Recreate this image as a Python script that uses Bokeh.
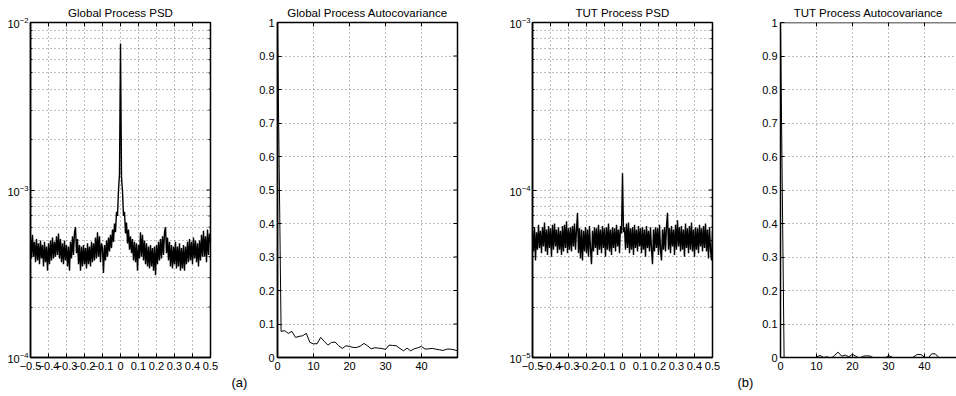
import numpy as np
from bokeh.plotting import figure
from bokeh.layouts import row
from bokeh.models import Range1d, FixedTicker, Span, Title
from bokeh.embed import file_html
from bokeh.resources import INLINE

FONT = "Liberation Sans"

# ---------------- data ----------------
psd_freq = np.linspace(-0.5, 0.5, 181)

global_psd = [
    5.2e-4, 3.9e-4, 5.4e-4, 4.0e-4, 4.9e-4, 3.7e-4, 5.1e-4, 3.8e-4, 4.8e-4, 3.6e-4,
    5.0e-4, 3.9e-4, 4.7e-4, 3.5e-4, 4.9e-4, 3.7e-4, 4.6e-4, 3.3e-4, 4.8e-4, 3.6e-4,
    5.0e-4, 3.8e-4, 5.2e-4, 3.9e-4, 4.9e-4, 4.0e-4, 5.3e-4, 4.1e-4, 5.5e-4, 3.9e-4,
    5.1e-4, 3.7e-4, 4.8e-4, 3.6e-4, 5.0e-4, 3.8e-4, 4.7e-4, 3.5e-4, 4.6e-4, 3.3e-4,
    4.9e-4, 3.9e-4, 5.3e-4, 4.1e-4, 5.6e-4, 6.0e-4, 4.2e-4, 5.1e-4, 3.6e-4, 4.7e-4,
    3.3e-4, 4.6e-4, 3.5e-4, 4.7e-4, 3.6e-4, 4.5e-4, 3.4e-4, 4.8e-4, 3.6e-4, 4.6e-4,
    3.5e-4, 4.9e-4, 3.7e-4, 4.8e-4, 3.8e-4, 5.2e-4, 3.9e-4, 5.6e-4, 4.0e-4, 5.3e-4,
    3.7e-4, 4.8e-4, 4.5e-4, 3.2e-4, 4.7e-4, 3.8e-4, 5.0e-4, 4.0e-4, 5.2e-4, 4.3e-4,
    5.4e-4, 4.5e-4, 5.8e-4, 4.9e-4, 6.3e-4, 5.6e-4, 7.4e-4, 7.0e-4, 10.0e-4, 12.5e-4,
    75.0e-4, 12.0e-4, 9.8e-4, 7.0e-4, 7.4e-4, 5.5e-4, 6.4e-4, 4.8e-4, 5.8e-4, 4.4e-4,
    5.3e-4, 4.2e-4, 5.1e-4, 3.8e-4, 4.9e-4, 3.7e-4, 4.8e-4, 3.3e-4, 4.7e-4, 3.9e-4,
    5.6e-4, 4.0e-4, 5.4e-4, 3.8e-4, 5.0e-4, 3.6e-4, 4.8e-4, 3.5e-4, 4.6e-4, 3.4e-4,
    4.7e-4, 3.5e-4, 4.5e-4, 3.3e-4, 4.6e-4, 3.1e-4, 4.7e-4, 3.6e-4, 4.9e-4, 3.8e-4,
    5.1e-4, 3.9e-4, 5.3e-4, 4.1e-4, 5.6e-4, 6.0e-4, 4.2e-4, 5.2e-4, 3.8e-4, 4.9e-4,
    3.5e-4, 4.7e-4, 3.4e-4, 4.6e-4, 3.6e-4, 4.9e-4, 3.4e-4, 4.6e-4, 3.5e-4, 4.8e-4,
    3.3e-4, 4.5e-4, 3.4e-4, 4.7e-4, 3.3e-4, 4.6e-4, 3.6e-4, 4.9e-4, 3.7e-4, 5.1e-4,
    3.8e-4, 4.9e-4, 3.6e-4, 5.2e-4, 3.9e-4, 5.0e-4, 3.7e-4, 4.8e-4, 3.5e-4, 5.0e-4,
    3.8e-4, 5.4e-4, 4.0e-4, 5.7e-4, 4.0e-4, 5.3e-4, 3.7e-4, 5.8e-4, 4.1e-4, 5.5e-4,
    4.9e-4,
]

tut_psd = [
    5.8e-5, 4.3e-5, 6.0e-5, 3.8e-5, 5.6e-5, 4.4e-5, 6.2e-5, 4.5e-5, 5.7e-5, 4.2e-5,
    6.0e-5, 4.6e-5, 6.4e-5, 4.3e-5, 5.8e-5, 4.1e-5, 6.1e-5, 4.5e-5, 5.9e-5, 4.0e-5,
    6.2e-5, 4.4e-5, 6.3e-5, 4.6e-5, 5.8e-5, 4.2e-5, 6.0e-5, 4.4e-5, 5.7e-5, 4.1e-5,
    6.1e-5, 4.3e-5, 6.2e-5, 4.5e-5, 6.5e-5, 4.2e-5, 5.9e-5, 4.4e-5, 6.0e-5, 4.3e-5,
    6.1e-5, 4.6e-5, 6.3e-5, 4.4e-5, 5.8e-5, 7.3e-5, 4.2e-5, 5.9e-5, 3.9e-5, 5.8e-5,
    3.8e-5, 5.7e-5, 4.3e-5, 6.0e-5, 4.2e-5, 5.8e-5, 4.0e-5, 6.1e-5, 4.4e-5, 3.6e-5,
    5.7e-5, 4.3e-5, 6.0e-5, 4.5e-5, 5.9e-5, 4.1e-5, 6.2e-5, 4.4e-5, 5.8e-5, 4.2e-5,
    6.1e-5, 4.5e-5, 5.9e-5, 4.0e-5, 6.0e-5, 4.4e-5, 6.3e-5, 4.3e-5, 5.8e-5, 4.1e-5,
    6.0e-5, 4.5e-5, 5.9e-5, 4.3e-5, 6.2e-5, 4.6e-5, 5.8e-5, 4.2e-5, 6.1e-5, 5.5e-5,
    12.6e-5, 5.6e-5, 6.0e-5, 4.4e-5, 6.3e-5, 4.5e-5, 6.4e-5, 4.2e-5, 5.9e-5, 4.4e-5,
    6.0e-5, 4.1e-5, 6.2e-5, 4.5e-5, 5.8e-5, 4.3e-5, 6.1e-5, 4.6e-5, 5.9e-5, 4.2e-5,
    6.0e-5, 4.4e-5, 5.8e-5, 4.0e-5, 6.1e-5, 4.5e-5, 5.7e-5, 4.3e-5, 6.0e-5, 4.4e-5,
    3.6e-5, 5.8e-5, 4.3e-5, 6.0e-5, 4.5e-5, 5.9e-5, 4.1e-5, 6.2e-5, 4.4e-5, 3.8e-5,
    5.8e-5, 4.4e-5, 6.0e-5, 4.3e-5, 6.1e-5, 7.3e-5, 4.4e-5, 5.9e-5, 4.2e-5, 6.1e-5,
    4.6e-5, 5.8e-5, 4.1e-5, 6.2e-5, 4.4e-5, 6.6e-5, 4.6e-5, 6.0e-5, 4.3e-5, 6.1e-5,
    4.4e-5, 5.8e-5, 4.0e-5, 6.3e-5, 4.5e-5, 5.9e-5, 4.2e-5, 6.1e-5, 4.4e-5, 6.4e-5,
    4.3e-5, 5.8e-5, 4.0e-5, 6.0e-5, 4.4e-5, 5.9e-5, 4.2e-5, 6.2e-5, 4.6e-5, 5.9e-5,
    4.3e-5, 6.1e-5, 4.5e-5, 6.3e-5, 4.3e-5, 5.8e-5, 3.9e-5, 6.0e-5, 4.4e-5, 3.8e-5,
    5.7e-5,
]

lags = list(range(51))

global_acov = [
    1.0, 0.078, 0.080, 0.072, 0.078, 0.060, 0.063, 0.065, 0.072, 0.045,
    0.041, 0.041, 0.060, 0.048, 0.037, 0.045, 0.046, 0.035, 0.027, 0.035,
    0.033, 0.030, 0.030, 0.034, 0.042, 0.035, 0.026, 0.029, 0.028, 0.027,
    0.024, 0.037, 0.036, 0.035, 0.027, 0.020, 0.028, 0.020, 0.026, 0.029,
    0.033, 0.025, 0.026, 0.027, 0.025, 0.023, 0.021, 0.025, 0.025, 0.023,
    0.020,
]

tut_acov = [
    1.0, -0.002, -0.006, -0.003, -0.008, -0.004, -0.002, -0.007, -0.003, -0.005,
    0.002, 0.006, 0.000, 0.002, -0.003, 0.006, 0.016, 0.004, 0.007, 0.002,
    0.010, 0.003, -0.002, 0.004, 0.005, 0.004, -0.002, -0.006, -0.004, -0.003,
    0.006, 0.001, -0.005, -0.008, -0.004, -0.006, -0.003, 0.002, 0.009, 0.009,
    0.001, -0.002, 0.011, 0.011, 0.000, -0.005, -0.003, -0.006, -0.004, -0.002,
    -0.005,
]

psd_xticks = [-0.5, -0.4, -0.3, -0.2, -0.1, 0, 0.1, 0.2, 0.3, 0.4, 0.5]
acov_xticks = [0, 10, 20, 30, 40]
acov_yticks = [0, 0.1, 0.2, 0.3, 0.4, 0.5, 0.6, 0.7, 0.8, 0.9, 1]
global_decades = [1e-4, 1e-3, 1e-2]
tut_decades = [1e-5, 1e-4, 1e-3]

titles = ["Global Process PSD", "Global Process Autocovariance",
          "TUT Process PSD", "TUT Process Autocovariance"]
panel_tags = ["(a)", "(b)"]


def decade_minor(decades):
    out = []
    for d in decades[:-1]:
        out += [d * k for k in range(2, 10)]
    return out


def style_axis(ax, ticker, standoff):
    ax.ticker = ticker
    ax.axis_line_color = "black"
    ax.axis_line_width = 1.5
    ax.major_tick_line_color = "black"
    ax.minor_tick_line_color = "black"
    ax.major_tick_in = 4
    ax.major_tick_out = 0
    ax.minor_tick_in = 2
    ax.minor_tick_out = 0
    ax.major_label_text_font = FONT
    ax.major_label_text_color = "black"
    ax.major_label_text_font_size = "11px"
    ax.major_label_standoff = standoff


def make_fig(title, width, bl, br, x_range, y_range, log_y, xticks, yticks, boxed=True):
    p = figure(width=width, height=396, x_range=x_range, y_range=y_range,
               y_axis_type="log" if log_y else "linear",
               output_backend="svg", toolbar_location=None,
               min_border_left=bl, min_border_right=br,
               min_border_top=22, min_border_bottom=39, title=title)
    p.background_fill_color = "white"
    p.border_fill_color = "white"
    if boxed:
        p.outline_line_color = "black"
        p.outline_line_width = 1.5
        p.outline_line_alpha = 1
    else:
        p.outline_line_color = None
        p.add_layout(Span(location=y_range.end, dimension="width",
                          line_color="black", line_width=1.5))
    p.title.text_font = FONT
    p.title.text_font_size = "11.5px"
    p.title.text_font_style = "normal"
    p.title.text_color = "black"
    p.title.align = "center"
    p.title.standoff = 8

    xt = FixedTicker(ticks=xticks, minor_ticks=[])
    ymin = decade_minor(yticks) if log_y else []
    yt = FixedTicker(ticks=yticks, minor_ticks=ymin)

    style_axis(p.below[0], xt, 4)
    style_axis(p.left[0], yt, 2 if log_y else 3)

    for g in (p.xgrid, p.ygrid):
        g.grid_line_color = "black"
        g.grid_line_alpha = 0.5
        g.grid_line_dash = "1 3"
        g.grid_line_width = 1
    p.xgrid.ticker = xt
    p.ygrid.ticker = yt
    if log_y:
        p.ygrid.minor_grid_line_color = "black"
        p.ygrid.minor_grid_line_alpha = 0.5
        p.ygrid.minor_grid_line_dash = "1 3"
        p.ygrid.minor_grid_line_width = 1

    # inward box ticks on the top (and right) edges; the frame clips the outer half
    p.scatter(xticks, [y_range.end] * len(xticks), marker="dash", size=8,
              angle=np.pi / 2, line_color="black", line_width=1)
    if boxed:
        p.scatter([x_range.end] * len(yticks), yticks, marker="dash", size=8,
                  line_color="black", line_width=1)
        if ymin:
            p.scatter([x_range.end] * len(ymin), ymin, marker="dash", size=4,
                      line_color="black", line_width=1)
    return p


def add_tag(p, text, offset):
    p.add_layout(Title(text=text, align="left", offset=offset, text_font=FONT,
                       text_font_size="13px", text_font_style="normal",
                       text_color="black", standoff=0), "below")


# Panel 1: Global PSD
p1 = make_fig(titles[0], 228, 30, 18, Range1d(-0.5, 0.5), Range1d(1e-4, 1e-2), True,
              psd_xticks, global_decades)
p1.line(psd_freq, global_psd, line_color="black", line_width=1.4)

# Panel 2: Global autocovariance
p2 = make_fig(titles[1], 262, 49, 33, Range1d(0, 50), Range1d(0, 1), False,
              acov_xticks, acov_yticks)
p2.line(lags, global_acov, line_color="black", line_width=1)
add_tag(p2, panel_tags[0], -46)

# Panel 3: TUT PSD
p3 = make_fig(titles[2], 240, 42, 18, Range1d(-0.5, 0.5), Range1d(1e-5, 1e-3), True,
              psd_xticks, tut_decades)
p3.line(psd_freq, tut_psd, line_color="black", line_width=1.4)

# Panel 4: TUT autocovariance (cut at the window's right edge)
p4 = make_fig(titles[3], 226, 50, 0, Range1d(0, 48.9), Range1d(0, 1), False,
              acov_xticks, acov_yticks, boxed=False)
p4.line(lags, tut_acov, line_color="black", line_width=1)
add_tag(p4, panel_tags[1], -43)

layout = row(p1, p2, p3, p4, spacing=0)

open("out.html", "w").write(file_html(layout, INLINE))
